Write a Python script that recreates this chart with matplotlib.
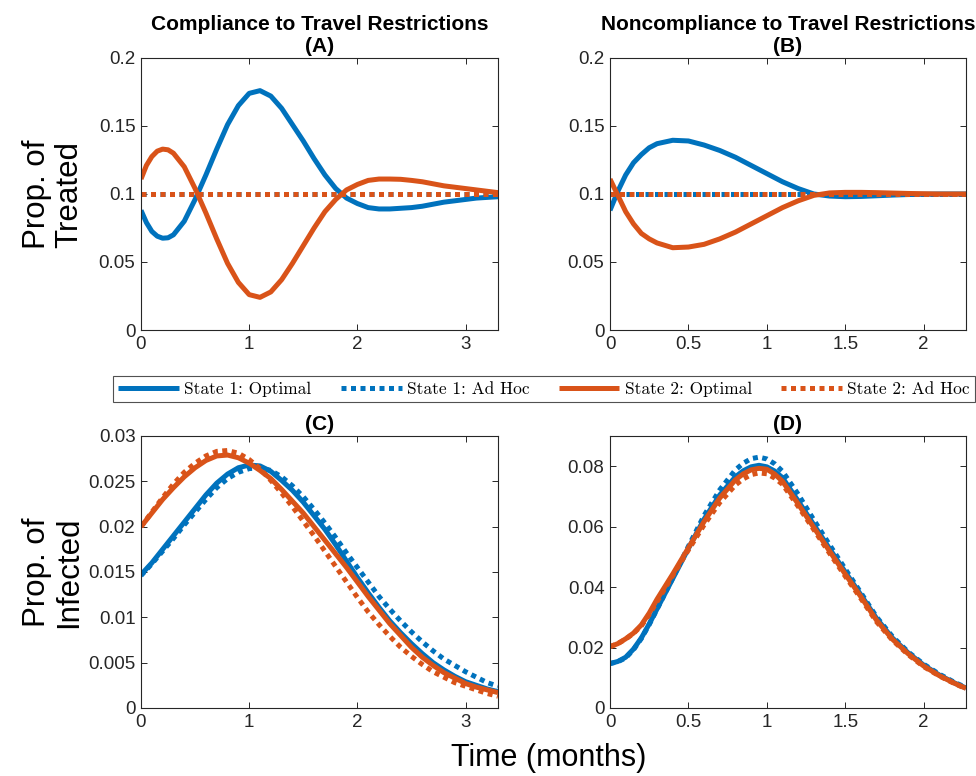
import matplotlib
matplotlib.use("Agg")
import matplotlib.pyplot as plt
from matplotlib.lines import Line2D

# ---------------- data ----------------
tA = [0.0, 0.05, 0.1, 0.15, 0.2, 0.25, 0.3, 0.4, 0.5, 0.6, 0.7, 0.8, 0.9, 1.0, 1.1, 1.2, 1.3,
      1.4, 1.5, 1.6, 1.7, 1.8, 1.9, 2.0, 2.1, 2.2, 2.3, 2.4, 2.5, 2.6, 2.7, 2.8, 2.9, 3.0,
      3.1, 3.2, 3.3]
A_s1_opt = [0.088, 0.079, 0.0725, 0.069, 0.0675, 0.0678, 0.070, 0.080, 0.096, 0.114, 0.133,
            0.151, 0.165, 0.174, 0.176, 0.172, 0.163, 0.151, 0.139, 0.126, 0.114, 0.104, 0.097,
            0.093, 0.090, 0.089, 0.089, 0.0895, 0.090, 0.091, 0.0925, 0.094, 0.095, 0.096,
            0.097, 0.0975, 0.098]
A_s2_opt = [0.111, 0.121, 0.1275, 0.1315, 0.133, 0.1325, 0.130, 0.120, 0.104, 0.086, 0.067,
            0.049, 0.035, 0.026, 0.024, 0.028, 0.037, 0.049, 0.062, 0.075, 0.087, 0.096, 0.103,
            0.107, 0.110, 0.111, 0.111, 0.1108, 0.110, 0.109, 0.1075, 0.106, 0.105, 0.104,
            0.103, 0.102, 0.101]
A_s1_adhoc = [0.1] * len(tA)
A_s2_adhoc = [0.1] * len(tA)

tB = [0.0, 0.05, 0.1, 0.15, 0.2, 0.25, 0.3, 0.4, 0.5, 0.6, 0.7, 0.8, 0.9, 1.0, 1.1, 1.2, 1.3,
      1.4, 1.5, 1.6, 1.7, 1.8, 1.9, 2.0, 2.1, 2.2, 2.27]
B_s1_opt = [0.088, 0.102, 0.114, 0.123, 0.129, 0.134, 0.137, 0.1395, 0.139, 0.136, 0.132, 0.127,
            0.121, 0.115, 0.109, 0.104, 0.100, 0.0985, 0.098, 0.0982, 0.0987, 0.0992, 0.0996,
            0.0998, 0.1, 0.1, 0.1]
B_s2_opt = [0.111, 0.099, 0.087, 0.078, 0.071, 0.067, 0.064, 0.0605, 0.061, 0.063, 0.067, 0.072,
            0.078, 0.084, 0.090, 0.095, 0.099, 0.1008, 0.1012, 0.1012, 0.101, 0.1007, 0.1004,
            0.1002, 0.1, 0.1, 0.1]
B_s1_adhoc = [0.1] * len(tB)
B_s2_adhoc = [0.1] * len(tB)

tC = [0.0, 0.1, 0.2, 0.3, 0.4, 0.5, 0.6, 0.7, 0.8, 0.9, 1.0, 1.1, 1.2, 1.3, 1.4, 1.5, 1.6,
      1.7, 1.8, 1.9, 2.0, 2.1, 2.2, 2.3, 2.4, 2.5, 2.6, 2.7, 2.8, 2.9, 3.0, 3.1, 3.2, 3.3]
C_s1_opt = [0.0147, 0.0160, 0.0175, 0.0190, 0.0205, 0.0220, 0.0235, 0.0248, 0.0258, 0.0265,
            0.0268, 0.0267, 0.0261, 0.0251, 0.0240, 0.0227, 0.0212, 0.0197, 0.0180, 0.0162,
            0.0144, 0.0127, 0.0111, 0.0096, 0.0083, 0.0071, 0.0060, 0.0050, 0.0042, 0.0035,
            0.0029, 0.0025, 0.0021, 0.0018]
C_s1_adhoc = [0.0146, 0.0159, 0.0173, 0.0187, 0.0202, 0.0216, 0.0230, 0.0243, 0.0253, 0.0260,
              0.0264, 0.0265, 0.0262, 0.0255, 0.0245, 0.0233, 0.0219, 0.0204, 0.0188, 0.0171,
              0.0155, 0.0139, 0.0123, 0.0109, 0.0096, 0.0084, 0.0073, 0.0063, 0.0054, 0.0047,
              0.0040, 0.0034, 0.0028, 0.0024]
C_s2_opt = [0.0200, 0.0215, 0.0230, 0.0243, 0.0255, 0.0265, 0.0273, 0.0278, 0.0279, 0.0276,
            0.0270, 0.0262, 0.0253, 0.0241, 0.0228, 0.0215, 0.0200, 0.0185, 0.0170, 0.0155,
            0.0139, 0.0123, 0.0108, 0.0093, 0.0080, 0.0067, 0.0056, 0.0047, 0.0039, 0.0033,
            0.0027, 0.0023, 0.0020, 0.0017]
C_s2_adhoc = [0.0200, 0.0216, 0.0232, 0.0247, 0.0260, 0.0270, 0.0278, 0.0283, 0.0284, 0.0281,
              0.0274, 0.0264, 0.0251, 0.0237, 0.0222, 0.0206, 0.0190, 0.0173, 0.0156, 0.0139,
              0.0122, 0.0106, 0.0092, 0.0079, 0.0067, 0.0057, 0.0048, 0.0040, 0.0034, 0.0028,
              0.0024, 0.0020, 0.0016, 0.0013]

tD = [0.0, 0.05, 0.1, 0.15, 0.2, 0.25, 0.3, 0.4, 0.5, 0.6, 0.7, 0.8, 0.85, 0.9, 0.95, 1.0,
      1.05, 1.1, 1.2, 1.3, 1.4, 1.5, 1.6, 1.7, 1.8, 1.9, 2.0, 2.1, 2.2, 2.27]
D_s1_opt = [0.0147, 0.0154, 0.0168, 0.0195, 0.0232, 0.0278, 0.0328, 0.0428, 0.0528, 0.0625,
            0.0705, 0.0765, 0.0785, 0.0798, 0.0803, 0.0798, 0.0784, 0.0762, 0.0685, 0.0606,
            0.0527, 0.0450, 0.0374, 0.0296, 0.0232, 0.0183, 0.0142, 0.0109, 0.0082, 0.0066]
D_s1_adhoc = [0.0147, 0.0153, 0.0166, 0.0193, 0.0230, 0.0276, 0.0327, 0.0430, 0.0535, 0.0637,
              0.0722, 0.0788, 0.0810, 0.0825, 0.0830, 0.0824, 0.0808, 0.0783, 0.0707, 0.0622,
              0.0540, 0.0460, 0.0381, 0.0301, 0.0237, 0.0186, 0.0145, 0.0112, 0.0084, 0.0068]
D_s2_opt = [0.0203, 0.0213, 0.0229, 0.0248, 0.0275, 0.0314, 0.0360, 0.0443, 0.0530, 0.0617,
            0.0695, 0.0755, 0.0775, 0.0788, 0.0793, 0.0790, 0.0774, 0.0750, 0.0675, 0.0597,
            0.0519, 0.0443, 0.0368, 0.0290, 0.0228, 0.0180, 0.0139, 0.0107, 0.0081, 0.0065]
D_s2_adhoc = [0.0203, 0.0213, 0.0228, 0.0247, 0.0272, 0.0309, 0.0352, 0.0438, 0.0523, 0.0606,
              0.0680, 0.0738, 0.0758, 0.0772, 0.0778, 0.0775, 0.0761, 0.0740, 0.0667, 0.0590,
              0.0512, 0.0436, 0.0362, 0.0285, 0.0225, 0.0177, 0.0137, 0.0106, 0.0080, 0.0064]

series_labels = ["State 1: Optimal", "State 1: Ad Hoc", "State 2: Optimal", "State 2: Ad Hoc"]
titles = ["Compliance to Travel Restrictions\n(A)", "Noncompliance to Travel Restrictions\n(B)",
          "(C)", "(D)"]
xticks_AC = [0, 1, 2, 3]
xticks_BD = [0, 0.5, 1, 1.5, 2]
xticklabels_AC = ["0", "1", "2", "3"]
xticklabels_BD = ["0", "0.5", "1", "1.5", "2"]
yticks_AB = [0, 0.05, 0.1, 0.15, 0.2]
yticklabels_AB = ["0", "0.05", "0.1", "0.15", "0.2"]
yticks_C = [0, 0.005, 0.01, 0.015, 0.02, 0.025, 0.03]
yticklabels_C = ["0", "0.005", "0.01", "0.015", "0.02", "0.025", "0.03"]
yticks_D = [0, 0.02, 0.04, 0.06, 0.08]
yticklabels_D = ["0", "0.02", "0.04", "0.06", "0.08"]
ylabel_top = "Prop. of\nTreated"
ylabel_bot = "Prop. of\nInfected"
xlabel = "Time (months)"

# ---------------- style ----------------
BLUE = "#0072BD"
ORANGE = "#D95319"
AXC = "#262626"
plt.rcParams["font.family"] = ["Liberation Sans", "DejaVu Sans"]

fig = plt.figure(figsize=(9.76, 7.76), dpi=100)
W, H = 976, 776


def make_ax(l, t, r, b):
    return fig.add_axes([l / W, 1 - b / H, (r - l) / W, (b - t) / H])


axA = make_ax(141, 58, 498, 330)
axB = make_ax(610, 58, 966, 330)
axC = make_ax(141, 436, 498, 708)
axD = make_ax(610, 436, 966, 708)

LW = 3.6
dot = (0, (1.0, 0.9))
dot_shift = (0.6, (1.0, 0.9))

panels = [
    (axA, tA, [A_s1_opt, A_s1_adhoc, A_s2_opt, A_s2_adhoc], (0, 3.3), (0, 0.2),
     xticks_AC, xticklabels_AC, yticks_AB, yticklabels_AB, dot),
    (axB, tB, [B_s1_opt, B_s1_adhoc, B_s2_opt, B_s2_adhoc], (0, 2.27), (0, 0.2),
     xticks_BD, xticklabels_BD, yticks_AB, yticklabels_AB, dot_shift),
    (axC, tC, [C_s1_opt, C_s1_adhoc, C_s2_opt, C_s2_adhoc], (0, 3.3), (0, 0.03),
     xticks_AC, xticklabels_AC, yticks_C, yticklabels_C, dot),
    (axD, tD, [D_s1_opt, D_s1_adhoc, D_s2_opt, D_s2_adhoc], (0, 2.27), (0, 0.09),
     xticks_BD, xticklabels_BD, yticks_D, yticklabels_D, dot),
]

for i, (ax, t, ys, xl, yl, xt, xtl, yt, ytl, bdot) in enumerate(panels):
    s1o, s1a, s2o, s2a = ys
    ax.plot(t, s1o, color=BLUE, lw=LW, solid_capstyle="butt", solid_joinstyle="round")
    ax.plot(t, s1a, color=BLUE, lw=LW, linestyle=bdot, dash_capstyle="butt")
    ax.plot(t, s2o, color=ORANGE, lw=LW, solid_capstyle="butt", solid_joinstyle="round")
    ax.plot(t, s2a, color=ORANGE, lw=LW, linestyle=dot, dash_capstyle="butt")
    ax.set_xlim(*xl)
    ax.set_ylim(*yl)
    ax.set_xticks(xt)
    ax.set_xticklabels(xtl)
    ax.set_yticks(yt)
    ax.set_yticklabels(ytl)
    ax.tick_params(direction="in", top=True, right=True, length=4, width=0.7,
                   colors=AXC, labelsize=13.5, pad=4)
    for sp in ax.spines.values():
        sp.set_color(AXC)
        sp.set_linewidth(0.8)
    ax.set_title(titles[i], fontsize=15, fontweight="bold", pad=4, linespacing=1.2)

axA.set_ylabel(ylabel_top, fontsize=22.5, linespacing=1.1)
axC.set_ylabel(ylabel_bot, fontsize=22.5, linespacing=1.1)
axA.yaxis.set_label_coords(-0.16, 0.5)
axC.yaxis.set_label_coords(-0.16, 0.5)

fig.text(549 / W, 1 - 758 / H, xlabel, fontsize=22, ha="center", va="center")

handles = [
    Line2D([], [], color=BLUE, lw=LW, solid_capstyle="butt"),
    Line2D([], [], color=BLUE, lw=LW, linestyle=dot, dash_capstyle="butt"),
    Line2D([], [], color=ORANGE, lw=LW, solid_capstyle="butt"),
    Line2D([], [], color=ORANGE, lw=LW, linestyle=dot, dash_capstyle="butt"),
]
leg = fig.legend(handles, series_labels, loc="lower left", ncol=4, mode="expand",
                 bbox_to_anchor=(113 / W, 1 - 402 / H, (975 - 113) / W, 29 / H),
                 prop={"family": "cmr10", "size": 12.5}, frameon=True, fancybox=False,
                 handlelength=3.5, handletextpad=0.3, borderpad=0.3, borderaxespad=0,
                 columnspacing=1.0)
leg.get_frame().set_edgecolor(AXC)
leg.get_frame().set_linewidth(0.8)

fig.savefig("out.png", dpi=100, facecolor="white")
